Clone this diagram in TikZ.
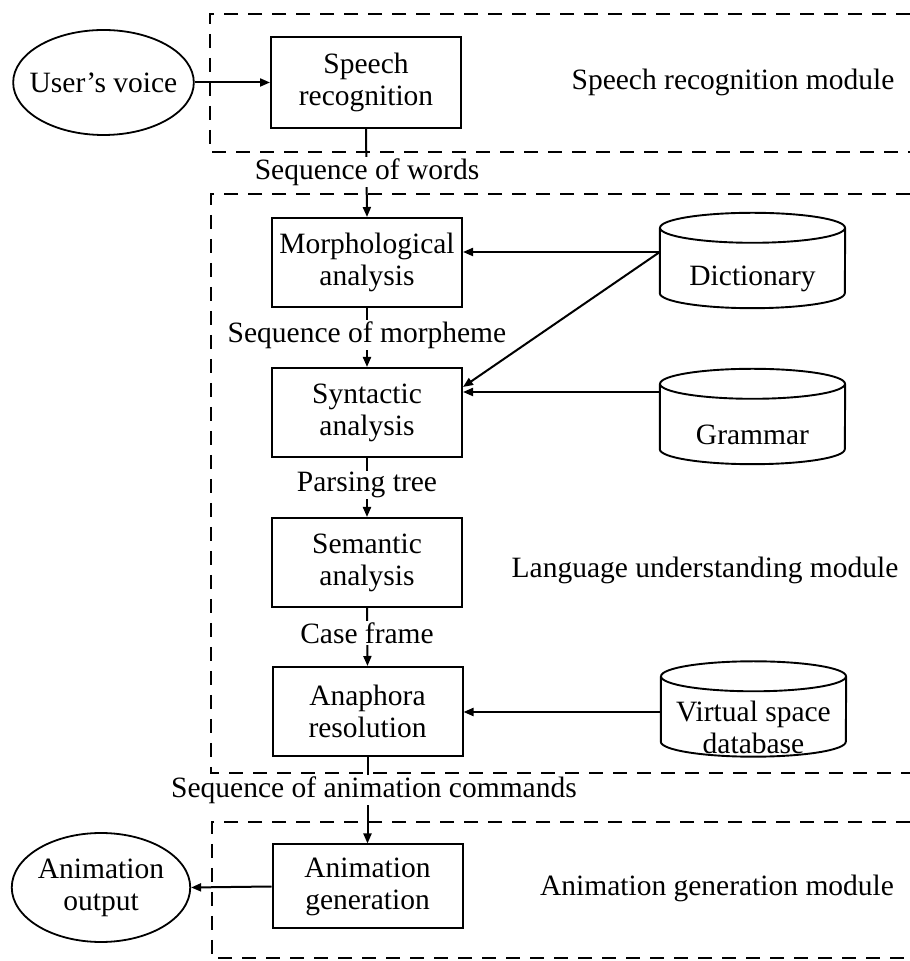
\documentclass[tikz,border=0pt]{standalone}
\usepackage{fontspec}
\setmainfont{Liberation Serif}
\usetikzlibrary{arrows.meta,shapes.geometric,calc}
\begin{document}
\begin{tikzpicture}[x=1pt,y=1pt,
  every node/.style={font=\fontsize{29.5}{32}\selectfont},
  proc/.style={draw, line width=2pt, minimum width=190pt, minimum height=89pt, align=center, inner sep=0pt},
  oval/.style={draw, ellipse, line width=1.8pt, align=center, inner sep=0pt},
  cylbox/.style={minimum width=185pt, minimum height=95pt, inner sep=0pt},
  cyl/.style={line width=1.9pt},
  lbl/.style={fill=white, inner sep=1pt},
  modbox/.style={line width=2.4pt, dash pattern=on 14pt off 10pt},
  conn/.style={line width=2pt},
  arr/.style={conn, -{Triangle[length=10pt,width=8pt]}}
]
\useasboundingbox (0,0) rectangle (910,961);

% module frames (open to the right)
\draw[modbox] (910,947) -- (210,947) -- (210,809) -- (910,809);
\draw[modbox] (910,767) -- (211,767) -- (211,188) -- (910,188);
\draw[modbox] (910,139) -- (212,139) -- (212,3) -- (910,3);

% nodes
\node[oval, minimum width=179pt, minimum height=105pt, inner xsep=-10pt] (voice) at (103.5,878.5) {User’s voice};
\node[proc, minimum height=91pt] (sr) at (366,878.5) {Speech\\recognition};
\node[proc] (morph) at (367,698.5) {Morphological\\analysis};
\node[proc] (syn) at (367,548.5) {Syntactic\\analysis};
\node[proc] (sem) at (367,398.5) {Semantic\\analysis};
\node[proc] (ana) at (367.5,249.5) {Anaphora\\resolution};
\node[proc, minimum height=84pt] (gen) at (367.5,74.5) {Animation\\generation};
\node[oval, minimum width=178pt, minimum height=109pt] (out) at (101,73.5) {Animation\\output};

% databases
\node[cylbox] (dict) at (752.5,700.5) {};
\node[cylbox] (gram) at (752.5,544.5) {};
\node[cylbox] (vsd) at (753.5,252) {};
\foreach \n in {dict,gram,vsd}{
  \draw[cyl] ([yshift=-15pt]\n.north) ellipse [x radius=92.5, y radius=15];
  \draw[cyl] ([yshift=-15pt]\n.north west) -- ([yshift=15pt]\n.south west)
     arc[start angle=180, end angle=360, x radius=92.5, y radius=15]
     -- ([yshift=-15pt]\n.north east);
}
\node (dictT) at ([yshift=-18pt]dict.center) {Dictionary};
\node (gramT) at ([yshift=-18pt]gram.center) {Grammar};
\node[align=center] (vsdT) at ([yshift=-18pt]vsd.center) {Virtual space\\database};

\coordinate (dictL) at ([yshift=8.5pt]dict.west);
\coordinate (gramL) at ([yshift=24.5pt]gram.west);
\coordinate (vsdL) at ([yshift=-3pt]vsd.west);
\coordinate (synIn) at ([yshift=25.5pt]syn.east);

% connectors
\draw[arr] (voice) -- (sr);
\draw[arr] (sr.south) -- (morph.north);
\draw[arr] (morph.south) -- (syn.north);
\draw[arr] (syn.south) -- (sem.north);
\draw[arr] (sem.south) -- (ana.north);
\draw[arr] (ana.south) -- (ana.south |- gen.north);
\draw[arr] (gen.west) -- (out.east);
\draw[arr] (dictL) -- (dictL -| morph.east);
\draw[arr] (dictL) -- (synIn);
\draw[arr] (gramL) -- (gramL -| syn.east);
\draw[arr] (vsdL) -- (vsdL -| ana.east);

% flow labels
\node[lbl] (l1) at (367,789) {Sequence of words};
\node[lbl] (l2) at (367,626) {Sequence of morpheme};
\node[lbl] (l3) at (367,476) {Parsing tree};
\node[lbl] (l4) at (367,328) {Case frame};
\node[lbl] (l5) at (374,171) {Sequence of animation commands};

% module labels
\node (m1) at (733,879) {Speech recognition module};
\node (m2) at (705,391) {Language understanding module};
\node (m3) at (717,73) {Animation generation module};
\end{tikzpicture}
\end{document}
